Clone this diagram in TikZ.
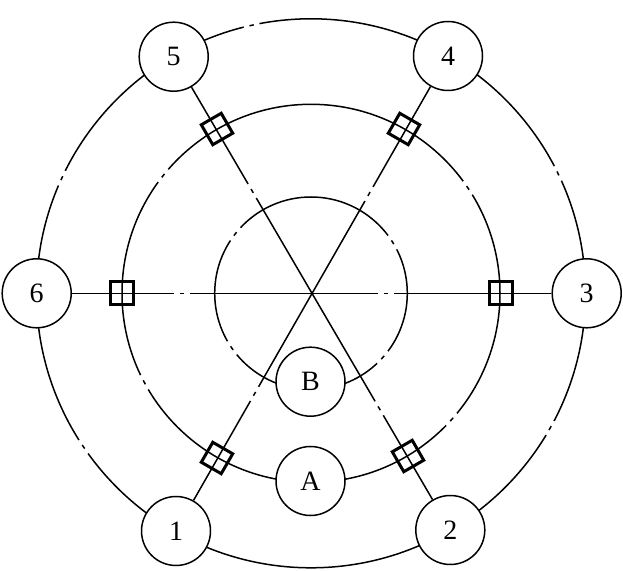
\documentclass[tikz,border=0pt]{standalone}
\usepackage{fontspec}
\setmainfont{Liberation Serif}
\usetikzlibrary{calc}
\newcommand{\ringgap}[2]{% radius, angle
  \pgfmathsetmacro{\spanA}{8*57.3/#1}
  \pgfmathsetmacro{\spanB}{2.2*57.3/#1}
  \draw[gapwhite] ($(c)+(#2-\spanA:#1)$) arc[start angle=#2-\spanA,end angle=#2+\spanA,radius=#1];
  \draw[thinline] ($(c)+(#2-\spanB:#1)$) arc[start angle=#2-\spanB,end angle=#2+\spanB,radius=#1];
}
\newcommand{\spokegap}[3]{% from node, to node, distance from the first
  \draw[gapwhite] ($(#1)!#3pt-8pt!(#2)$) -- ($(#1)!#3pt+8pt!(#2)$);
  \draw[thinline] ($(#1)!#3pt-2.2pt!(#2)$) -- ($(#1)!#3pt+2.2pt!(#2)$);
}
\tikzset{
  x=1pt,y=1pt,
  thinline/.style={draw=black,line width=1.5pt,line cap=butt},
  gapwhite/.style={draw=white,line width=3.6pt,line cap=butt},
  ringnode/.style={circle,draw=black,line width=1.5pt,inner sep=0pt},
  station/.style={circle,draw=black,fill=white,line width=1.5pt,inner sep=0pt,minimum size=69pt,font=\fontsize{28}{28}\selectfont},
  clampbox/.style={rectangle,draw=black,line width=3pt,inner sep=0pt,minimum size=23pt}
}
\begin{document}
\begin{tikzpicture}
\useasboundingbox (0,0) rectangle (623,570);
\coordinate (c) at (311,276.7);
% rings
\node[ringnode,minimum size=549pt] (outerring) at (c) {};
\node[ringnode,minimum size=378pt] (midring) at (c) {};
\node[ringnode,minimum size=192.6pt] (innerring) at (c) {};
% stations
\node[station] (n5) at (173.7,513.3) {5};
\node[station] (n4) at (448,514) {4};
\node[station] (n3) at (586.7,276.7) {3};
\node[station] (n2) at (450.3,40) {2};
\node[station] (n1) at (176,39) {1};
\node[station] (n6) at (36.7,276.7) {6};
% spokes
\draw[thinline] (n5) -- (n2);
\draw[thinline] (n4) -- (n1);
\draw[thinline] (n6) -- (n3);
% breaks of the dash-dot lines
\ringgap{274.5}{102.5}\ringgap{274.5}{155.2}\ringgap{274.5}{25.9}\ringgap{274.5}{214}\ringgap{274.5}{330.6}
\ringgap{189}{141.5}\ringgap{189}{33.9}\ringgap{189}{208.1}\ringgap{189}{318.1}
\ringgap{96.3}{141.9}\ringgap{96.3}{32}\ringgap{96.3}{214.7}\ringgap{96.3}{318.2}
\spokegap{n5}{n2}{155.5}\spokegap{n4}{n1}{159}\spokegap{n1}{n4}{158}\spokegap{n2}{n5}{141}\spokegap{n3}{n6}{200.5}\spokegap{n6}{n3}{145.5}
% inner stations cover the rings
\node[station] (nB) at (310.5,188.3) {B};
\node[station] (nA) at (310.5,89) {A};
% clamp squares
\node[clampbox,rotate=30] (s5) at (217,441) {};
\node[clampbox,rotate=-30] (s4) at (404,441) {};
\node[clampbox] (s3) at (501,276.7) {};
\node[clampbox,rotate=30] (s2) at (408,114) {};
\node[clampbox,rotate=-30] (s1) at (217,112) {};
\node[clampbox] (s6) at (121.5,276.7) {};
\end{tikzpicture}
\end{document}
